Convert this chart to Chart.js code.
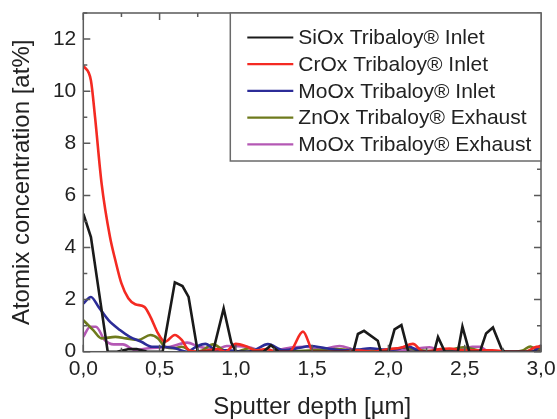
<!DOCTYPE html>
<html><head><meta charset="utf-8">
<script src="https://cdn.jsdelivr.net/npm/chart.js@4.4.1/dist/chart.umd.min.js"></script>
<style>html,body{margin:0;padding:0;background:#fff;overflow:hidden}#wrap{width:557px;height:419px}</style>
</head><body><div id="wrap"><canvas id="c" width="557" height="419"></canvas></div>
<script>
// ---- data ----
const xTickLabels = ['0,0','0,5','1,0','1,5','2,0','2,5','3,0'];
const yTickLabels = ['0','2','4','6','8','10','12'];
const seriesNames = ['SiOx Tribaloy\u00AE Inlet','CrOx Tribaloy\u00AE Inlet','MoOx Tribaloy\u00AE Inlet','ZnOx Tribaloy\u00AE Exhaust','MoOx Tribaloy\u00AE Exhaust'];

const siX = [0,0.05,0.16,0.22,0.30,0.35,0.42,0.48,0.52,0.60,0.65,0.69,0.75,0.80,0.85,0.92,0.97,1.0,1.1,1.18,1.23,1.28,1.4,1.5,1.6,1.7,1.77,1.80,1.84,1.93,1.95,2.0,2.04,2.085,2.13,2.2,2.30,2.325,2.37,2.455,2.485,2.53,2.60,2.64,2.685,2.74,2.76,2.85,3.0];
const siY = [5.3,4.4,0,0,0.1,0.1,0,0,0,2.66,2.52,2.1,0,0,0,1.66,0.35,0,0,0,0.25,0,0,0,0,0,0,0.68,0.8,0.42,0,0,0.86,1.02,0,0,0,0.56,0,0,0.96,0,0,0.7,0.93,0.13,0,0,0];

const crX = [0,0.05,0.077,0.12,0.175,0.21,0.25,0.295,0.34,0.40,0.44,0.49,0.535,0.60,0.645,0.69,0.75,0.82,0.88,0.93,1.0,1.07,1.13,1.2,1.27,1.35,1.44,1.51,1.6,1.7,1.8,1.9,2.0,2.08,2.16,2.23,2.34,2.40,2.5,2.6,2.68,2.8,2.9,2.96,3.0];
const crY = [10.98,10.41,9.0,6.45,4.4,3.51,2.62,2.05,1.82,1.72,1.34,0.70,0.38,0.64,0.45,0.07,0,0.05,0.1,0,0.3,0.2,0.05,0.1,0,0,0.77,0,0,0,0.05,0,0.1,0.15,0.3,0,0.1,0.12,0.05,0.05,0.05,0,0,0.17,0.2];

const moInX = [0,0.05,0.10,0.165,0.24,0.305,0.38,0.45,0.52,0.60,0.68,0.74,0.80,0.87,0.95,1.05,1.12,1.21,1.31,1.42,1.485,1.59,1.7,1.8,1.88,1.98,2.06,2.13,2.2,2.3,2.4,2.5,2.6,2.7,2.8,2.9,2.94,3.0];
const moInY = [1.85,2.1,1.72,1.21,0.83,0.57,0.38,0.19,0.19,0.13,0,0.19,0.3,0.06,0.05,0,0.05,0.29,0.06,0.15,0.22,0.13,0.05,0.08,0.13,0.08,0.1,0.2,0.03,0,0,0,0,0,0,0,0,0.25];

const znX = [0,0.065,0.12,0.21,0.28,0.36,0.44,0.49,0.535,0.60,0.645,0.72,0.78,0.85,0.92,1.0,1.09,1.15,1.3,1.5,1.66,1.8,2.0,2.1,2.2,2.35,2.49,2.6,2.8,2.88,2.93,2.97,3.0];
const znY = [1.21,0.83,0.51,0.57,0.51,0.45,0.64,0.51,0.19,0.13,0.19,0,0.05,0.28,0.06,0,0.13,0,0,0.05,0.1,0.03,0.05,0.15,0.06,0,0.17,0.05,0,0.05,0.2,0.1,0.1];

const moExX = [0,0.045,0.083,0.14,0.20,0.26,0.34,0.43,0.57,0.68,0.76,0.87,0.94,1.07,1.2,1.375,1.46,1.55,1.68,1.79,1.9,1.98,2.1,2.27,2.34,2.45,2.55,2.6,2.64,2.75,2.9,3.0];
const moExY = [0.57,0.96,0.96,0.45,0.28,0.28,0.06,0.13,0.19,0.35,0.19,0.09,0.22,0.19,0,0.17,0.19,0.08,0.22,0.06,0.05,0,0.05,0.17,0.06,0.05,0.19,0.19,0.06,0,0,0.06];

const seriesColors = ['#1a1a1a','#f42a22','#2c2c98','#6e7a1c','#b458b4'];
// ---- end data ----

const pairs = (xs, ys) => xs.map((x, i) => ({x: x, y: ys[i]}));
const allX = [siX, crX, moInX, znX, moExX];
const allY = [siY, crY, moInY, znY, moExY];
const tensions = [0, 0.3, 0.35, 0.35, 0.35];

const FONT = '"Liberation Sans", Arial, Helvetica, sans-serif';
const TXT = '#222';
const FRAME = '#5a5a5a';

const framePlugin = {
  id: 'frame',
  afterDatasetsDraw(chart) {
    const {ctx, chartArea: a, scales} = chart;
    const xs = scales.x, ys = scales.y;
    ctx.save();
    ctx.strokeStyle = FRAME;
    ctx.lineWidth = 1.5;
    ctx.strokeRect(a.left, a.top, a.right - a.left, a.bottom - a.top);
    ctx.beginPath();
    for (let v = 0; v <= 13.001; v += 1) {
      const py = ys.getPixelForValue(v);
      const len = (Math.round(v) % 2 === 0) ? 7 : 4;
      ctx.moveTo(a.left, py); ctx.lineTo(a.left + len, py);
      ctx.moveTo(a.right, py); ctx.lineTo(a.right - len, py);
    }
    for (let k = 0; k <= 12; k++) {
      const v = k * 0.25;
      const px = xs.getPixelForValue(v);
      const len = (k % 2 === 0) ? 7 : 4;
      ctx.moveTo(px, a.bottom); ctx.lineTo(px, a.bottom - len);
      ctx.moveTo(px, a.top); ctx.lineTo(px, a.top + len);
    }
    ctx.stroke();

    // legend box
    const L = a.left + 147, T = a.top, R = a.right, B = a.top + 148;
    ctx.fillStyle = '#fff';
    ctx.fillRect(L, T, R - L, B - T);
    ctx.strokeStyle = '#6a6a6a';
    ctx.lineWidth = 1.5;
    ctx.strokeRect(L, T, R - L, B - T);
    ctx.font = '21px ' + FONT;
    ctx.textBaseline = 'middle';
    ctx.textAlign = 'left';
    chart.data.datasets.forEach((ds, i) => {
      const cy = T + 24.5 + i * 26.7;
      ctx.strokeStyle = ds.borderColor;
      ctx.lineWidth = 2.2;
      ctx.beginPath();
      ctx.moveTo(L + 17, cy); ctx.lineTo(L + 63, cy);
      ctx.stroke();
      ctx.fillStyle = TXT;
      ctx.fillText(ds.label, L + 68, cy + 1);
    });

    // axis titles
    ctx.fillStyle = TXT;
    ctx.font = '24px ' + FONT;
    ctx.textAlign = 'center';
    ctx.textBaseline = 'alphabetic';
    ctx.fillText('Sputter depth [\u00B5m]', (a.left + a.right) / 2, 414);
    ctx.save();
    ctx.translate(29, (a.top + a.bottom) / 2);
    ctx.rotate(-Math.PI / 2);
    ctx.fillText('Atomix concentration [at%]', 0, 0);
    ctx.restore();
    ctx.restore();
  }
};

new Chart(document.getElementById('c'), {
  type: 'line',
  data: {
    datasets: seriesNames.map((name, i) => ({
      label: name,
      data: pairs(allX[i], allY[i]),
      borderColor: seriesColors[i],
      borderWidth: 2.6,
      pointRadius: 0,
      fill: false,
      tension: tensions[i],
      cubicInterpolationMode: i === 0 ? 'default' : 'monotone'
    }))
  },
  options: {
    responsive: false,
    animation: false,
    devicePixelRatio: 1,
    layout: {padding: {top: 13, right: 16, left: 0, bottom: 0}},
    plugins: {legend: {display: false}, tooltip: {enabled: false}},
    scales: {
      x: {
        type: 'linear', min: 0, max: 3,
        grid: {display: false, drawTicks: false},
        border: {display: false},
        ticks: {
          stepSize: 0.5, padding: 5, maxRotation: 0, autoSkip: false,
          color: TXT, font: {family: FONT, size: 21},
          callback: (v) => xTickLabels[Math.round(v / 0.5)]
        },
        afterFit: (s) => { s.height = 67.3; s.paddingLeft = 0; s.paddingRight = 0; }
      },
      y: {
        type: 'linear', min: 0, max: 13,
        grid: {display: false, drawTicks: false},
        border: {display: false},
        ticks: {
          stepSize: 2, padding: 7, includeBounds: false,
          color: TXT, font: {family: FONT, size: 21},
          callback: (v) => (v % 2 === 0 && v <= 12) ? yTickLabels[v / 2] : ''
        },
        afterFit: (s) => { s.width = 83.3; s.paddingTop = 0; s.paddingBottom = 0; }
      }
    }
  },
  plugins: [framePlugin]
});
</script>
</body></html>
